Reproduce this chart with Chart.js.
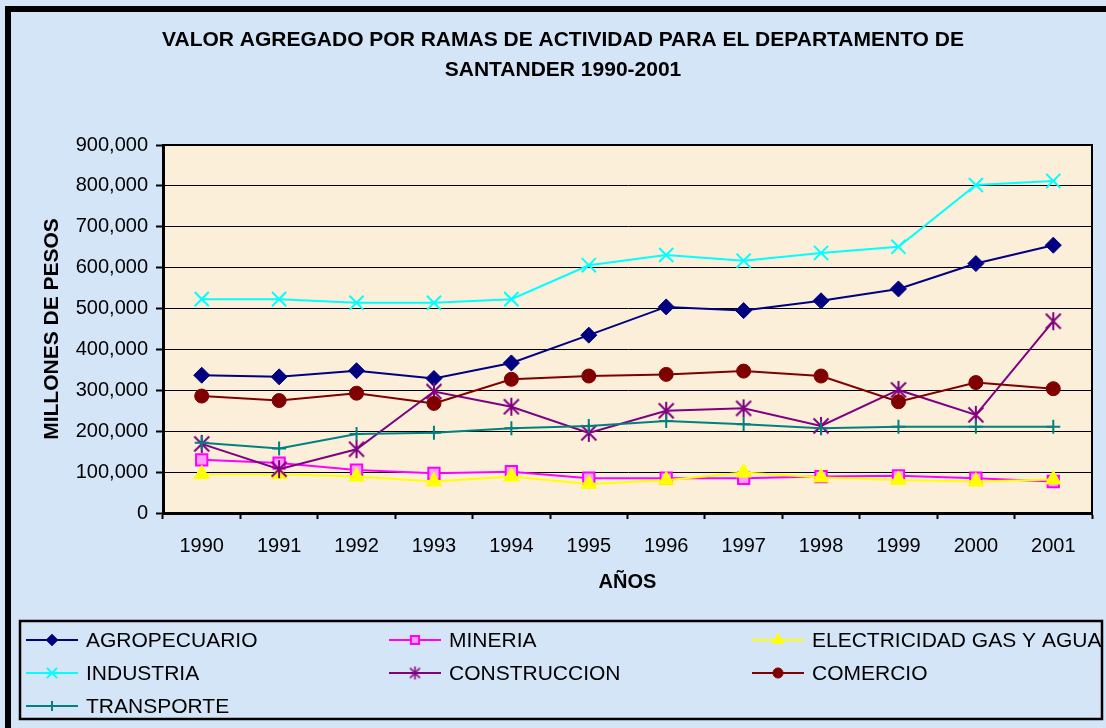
<!DOCTYPE html>
<html>
<head>
<meta charset="utf-8">
<script src="https://cdn.jsdelivr.net/npm/chart.js@4.4.1/dist/chart.umd.min.js"></script>
<style>
html,body{margin:0;padding:0;background:#d5e5f8;overflow:hidden}
canvas{display:block}
</style>
</head>
<body>
<canvas id="c" width="1106" height="728"></canvas>
<script>
// ---- data (values in millones de pesos) ----
const years = ['1990','1991','1992','1993','1994','1995','1996','1997','1998','1999','2000','2001'];
const agropecuario = [337000, 333000, 348000, 329000, 367000, 435000, 504000, 495000, 519000, 548000, 610000, 655000];
const mineria      = [130000, 122000, 105000,  97000, 101000,  85000,  85000,  85000,  89000,  91000,  85000,  77000];
const electricidad = [ 95000,  95000,  89000,  77000,  89000,  71000,  80000,  99000,  87000,  81000,  77000,  82000];
const industria    = [523000, 523000, 514000, 514000, 523000, 606000, 631000, 617000, 636000, 651000, 802000, 812000];
const construccion = [169000, 107000, 156000, 297000, 260000, 196000, 250000, 256000, 213000, 301000, 240000, 469000];
const comercio     = [286000, 275000, 293000, 268000, 327000, 335000, 339000, 347000, 335000, 272000, 319000, 304000];
const transporte   = [172000, 158000, 193000, 196000, 207000, 213000, 225000, 217000, 207000, 211000, 211000, 211000];
const seriesNames = ['AGROPECUARIO','MINERIA','ELECTRICIDAD GAS Y AGUA','INDUSTRIA','CONSTRUCCION','COMERCIO','TRANSPORTE'];
const titleLines = ['VALOR AGREGADO POR RAMAS DE ACTIVIDAD PARA EL DEPARTAMENTO DE','SANTANDER 1990-2001'];
const yAxisTitle = 'MILLONES DE PESOS';
const xAxisTitle = 'AÑOS';
const yMax = 900000, yStep = 100000;

const FONT = '"Liberation Sans", Arial, sans-serif';

// asterisk marker (X plus vertical bar), like the spreadsheet "star" marker
function makeAsterisk(size, color, lw) {
  const cv = document.createElement('canvas');
  cv.width = size; cv.height = size;
  const c = cv.getContext('2d');
  const m = size / 2, a = size / 2 - 2.5, v = size / 2 - 1;
  c.strokeStyle = color; c.lineWidth = lw; c.lineCap = 'butt';
  c.beginPath();
  c.moveTo(m - a, m - a); c.lineTo(m + a, m + a);
  c.moveTo(m + a, m - a); c.lineTo(m - a, m + a);
  c.moveTo(m, m - v); c.lineTo(m, m + v);
  c.stroke();
  return cv;
}
const asteriskBig = makeAsterisk(20, '#800080', 2);
const asteriskSmall = makeAsterisk(15, '#800080', 1.6);

const styles = [
  {color:'#000080', pointStyle:'rectRot', radius:8, bw:1, bg:'#000080'},
  {color:'#FF00FF', pointStyle:'rect', radius:8, bw:2, bg:'#ff9cff'},
  {color:'#FFFF00', pointStyle:'triangle', radius:9, bw:1, bg:'#FFFF00'},
  {color:'#00FFFF', pointStyle:'crossRot', radius:10, bw:2, bg:'#00FFFF'},
  {color:'#800080', pointStyle:asteriskBig, legendStyle:asteriskSmall, radius:9, bw:2, bg:'#800080'},
  {color:'#800000', pointStyle:'circle', radius:7, bw:1, bg:'#800000'},
  {color:'#008080', pointStyle:'cross', radius:7, bw:2, bg:'#008080'}
];
const allData = [agropecuario, mineria, electricidad, industria, construccion, comercio, transporte];

const datasets = allData.map((d, i) => ({
  label: seriesNames[i],
  data: d,
  borderColor: styles[i].color,
  backgroundColor: styles[i].bg,
  pointBackgroundColor: styles[i].bg,
  pointBorderColor: styles[i].color,
  pointStyle: styles[i].pointStyle,
  pointRadius: styles[i].radius,
  pointHoverRadius: styles[i].radius,
  pointBorderWidth: styles[i].bw,
  borderWidth: 2,
  tension: 0,
  fill: false,
  order: allData.length - i
}));

const framePlugin = {
  id: 'frame',
  beforeDraw(chart) {
    const {ctx, chartArea: a} = chart;
    ctx.save();
    ctx.fillStyle = '#d5e5f8';
    ctx.fillRect(0, 0, chart.width, chart.height);
    ctx.fillStyle = '#000';
    ctx.fillRect(5, 6, 6, chart.height - 6);
    ctx.fillRect(5, 6, chart.width - 5, 6);
    ctx.fillStyle = '#fbefd9';
    ctx.fillRect(a.left, a.top, a.right - a.left, a.bottom - a.top);
    ctx.restore();
  },
  beforeDatasetsDraw(chart) {
    const {ctx, chartArea: a} = chart;
    ctx.save();
    ctx.strokeStyle = '#000';
    ctx.lineWidth = 2;
    ctx.beginPath();
    ctx.moveTo(a.left, a.top);
    ctx.lineTo(a.right, a.top);
    ctx.lineTo(a.right, a.bottom);
    ctx.stroke();
    ctx.restore();
  },
  afterDraw(chart) {
    const ctx = chart.ctx;
    ctx.save();
    ctx.fillStyle = '#000';
    ctx.font = 'bold 21px ' + FONT;
    ctx.textAlign = 'center';
    ctx.textBaseline = 'middle';
    ctx.fillText(titleLines[0], 563, 40);
    ctx.fillText(titleLines[1], 563, 70);

    ctx.strokeStyle = '#000';
    ctx.lineWidth = 2.5;
    ctx.strokeRect(20, 621, 1082, 98);
    const cols = [26, 389, 752];
    const rows = [640, 673, 706];
    ctx.font = '21px ' + FONT;
    ctx.textAlign = 'left';
    ctx.textBaseline = 'middle';
    chart.data.datasets.forEach((ds, i) => {
      const x0 = cols[i % 3], y = rows[Math.floor(i / 3)];
      const x1 = x0 + 52;
      ctx.strokeStyle = ds.borderColor;
      ctx.lineWidth = 2;
      ctx.beginPath();
      ctx.moveTo(x0, y);
      ctx.lineTo(x1, y);
      ctx.stroke();
      ctx.fillStyle = ds.pointBackgroundColor;
      ctx.strokeStyle = ds.pointBorderColor;
      ctx.lineWidth = ds.pointBorderWidth;
      Chart.helpers.drawPoint(ctx, {
        pointStyle: styles[i].legendStyle || ds.pointStyle,
        radius: ds.pointRadius * 0.72,
        borderWidth: ds.pointBorderWidth,
        rotation: 0
      }, (x0 + x1) / 2, y);
      ctx.fillStyle = '#000';
      ctx.fillText(ds.label, x1 + 8, y + 1);
    });
    ctx.restore();
  }
};

new Chart(document.getElementById('c'), {
  type: 'line',
  data: { labels: years, datasets },
  plugins: [framePlugin],
  options: {
    responsive: false,
    animation: false,
    devicePixelRatio: 1,
    layout: { padding: { top: 145, right: 14, bottom: 125, left: 0 } },
    plugins: { legend: { display: false }, title: { display: false }, tooltip: { enabled: false } },
    scales: {
      x: {
        type: 'category',
        offset: true,
        afterFit(s) { s.height = 90; },
        grid: { display: true, drawOnChartArea: false, drawTicks: true, offset: true, tickLength: 6, tickWidth: 2, tickColor: '#000', color: '#000' },
        border: { display: true, color: '#000', width: 3 },
        ticks: { color: '#000', font: { family: FONT, size: 20 }, padding: 15, maxRotation: 0, autoSkip: false },
        title: { display: true, text: xAxisTitle, color: '#000', font: { family: FONT, size: 20, weight: 'bold' }, padding: { top: 0, bottom: 9 } }
      },
      y: {
        min: 0, max: yMax,
        afterFit(s) { s.width = 163; },
        grid: { color: '#000', lineWidth: 1, drawTicks: true, tickLength: 7, tickWidth: 2, tickColor: '#000' },
        border: { display: true, color: '#000', width: 3 },
        ticks: {
          stepSize: yStep, color: '#000', padding: 8,
          font: { family: FONT, size: 20 },
          callback: v => v.toLocaleString('en-US')
        },
        title: { display: true, text: yAxisTitle, color: '#000', font: { family: FONT, size: 21, weight: 'bold' }, padding: { top: 40, bottom: 0 } }
      }
    }
  }
});
</script>
</body>
</html>
